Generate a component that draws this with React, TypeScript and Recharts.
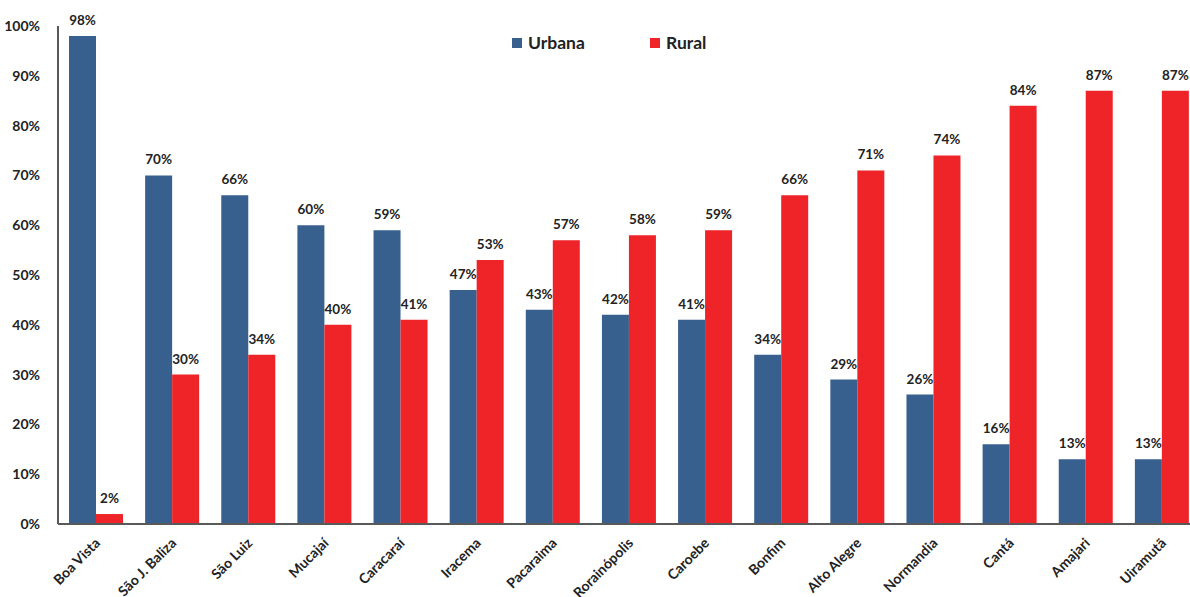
import { Bar, BarChart, LabelList, Legend, XAxis, YAxis } from "recharts"

const municipios = [
  "Boa Vista",
  "São J. Baliza",
  "São Luiz",
  "Mucajaí",
  "Caracaraí",
  "Iracema",
  "Pacaraima",
  "Rorainópolis",
  "Caroebe",
  "Bonfim",
  "Alto Alegre",
  "Normandia",
  "Cantá",
  "Amajari",
  "Uiramutã",
]
const urbana = [98, 70, 66, 60, 59, 47, 43, 42, 41, 34, 29, 26, 16, 13, 13]
const rural = [2, 30, 34, 40, 41, 53, 57, 58, 59, 66, 71, 74, 84, 87, 87]
const yTicks = [0, 10, 20, 30, 40, 50, 60, 70, 80, 90, 100]

const data = municipios.map((name, i) => ({ name, urbana: urbana[i], rural: rural[i] }))

const BLUE = "#37608f"
const RED = "#ee2428"
const FONT = "Lato, 'Open Sans', sans-serif"

function XTick({ x, y, payload }: any) {
  return (
    <text
      x={x + 5}
      y={y + 12}
      transform={`rotate(-45, ${x + 5}, ${y + 12})`}
      textAnchor="end"
      fontFamily={FONT}
      fontWeight={700}
      fontSize={14}
      fill="#222"
    >
      {payload.value}
    </text>
  )
}

function LegendBox() {
  const items = [
    { label: "Urbana", color: BLUE, width: 138 },
    { label: "Rural", color: RED, width: 80 },
  ]
  return (
    <div style={{ display: "flex", fontFamily: FONT, fontWeight: 700, fontSize: 17.5, color: "#222" }}>
      {items.map((it) => (
        <div key={it.label} style={{ display: "flex", alignItems: "center", width: it.width }}>
          <span style={{ width: 10, height: 10, background: it.color, marginRight: 6 }} />
          {it.label}
        </div>
      ))}
    </div>
  )
}

const labelStyle = { fill: "#222", fontSize: 13.5, fontWeight: 700, fontFamily: FONT }

export default function App() {
  return (
    <div style={{ position: "absolute", left: 0, top: 0, width: 1190, height: 597, overflow: "hidden", background: "#fff" }}>
      <BarChart
        width={1200}
        height={597}
        data={data}
        margin={{ top: 26, right: 0, left: 0, bottom: 0 }}
        barGap={0}
        barSize={27}
      >
        <XAxis
          dataKey="name"
          interval={0}
          height={73}
          tickLine={false}
          axisLine={{ stroke: "#595959", strokeWidth: 2 }}
          tick={<XTick />}
        />
        <YAxis
          width={58}
          domain={[0, 100]}
          ticks={yTicks}
          tickLine={false}
          axisLine={{ stroke: "#595959", strokeWidth: 2 }}
          tickFormatter={(v: number) => `${v}%`}
          tick={{ fill: "#222", fontSize: 14, fontWeight: 700, fontFamily: FONT }}
          tickMargin={12}
        />
        <Legend
          verticalAlign="middle"
          align="center"
          content={<LegendBox />}
          wrapperStyle={{ position: "absolute", top: 32, left: 512, width: 230 }}
        />
        <Bar dataKey="urbana" name="Urbana" fill={BLUE} isAnimationActive={false}>
          <LabelList
            dataKey="urbana"
            position="top"
            offset={11}
            formatter={(v: any) => `${v}%`}
            style={labelStyle}
          />
        </Bar>
        <Bar dataKey="rural" name="Rural" fill={RED} isAnimationActive={false}>
          <LabelList
            dataKey="rural"
            position="top"
            offset={11}
            formatter={(v: any) => `${v}%`}
            style={labelStyle}
          />
        </Bar>
      </BarChart>
    </div>
  )
}
